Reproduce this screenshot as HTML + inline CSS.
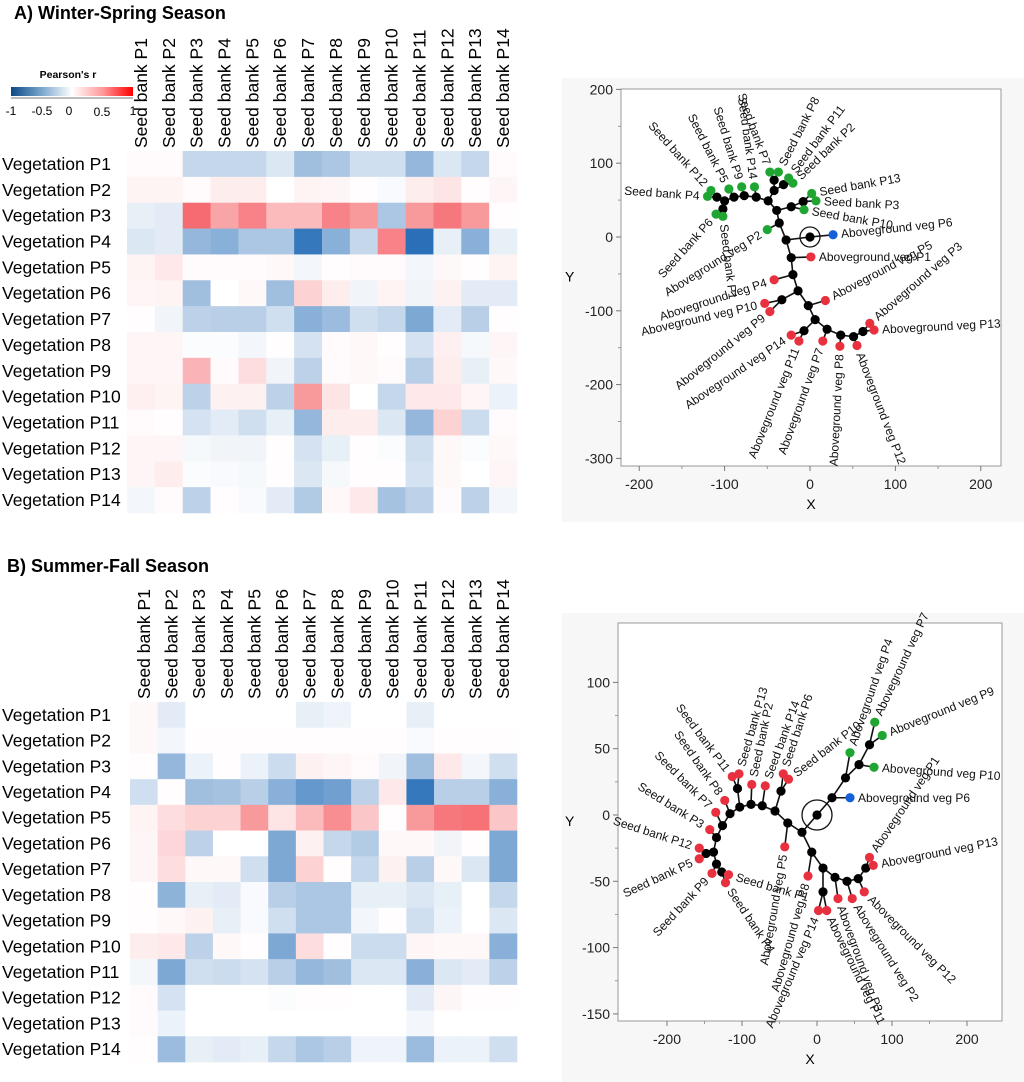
<!DOCTYPE html>
<html><head><meta charset="utf-8"><style>
html,body{margin:0;padding:0;background:#fff;}
svg{display:block;font-family:"Liberation Sans",sans-serif;}
</style></head><body>
<svg id="fig" width="1024" height="1082" viewBox="0 0 1024 1082" xmlns="http://www.w3.org/2000/svg">
<defs>
<linearGradient id="lg" x1="0" x2="1" y1="0" y2="0">
<stop offset="0" stop-color="#0c4a86"/><stop offset="0.25" stop-color="#7aa6cc"/><stop offset="0.5" stop-color="#ffffff"/><stop offset="0.75" stop-color="#ff9a9a"/><stop offset="1" stop-color="#ff0000"/>
</linearGradient>
</defs>
<text x="14" y="19" font-size="18" font-weight="bold">A) Winter-Spring Season</text>
<text x="7" y="572" font-size="18" font-weight="bold">B) Summer-Fall Season</text>
<g>
<text x="68" y="78" font-size="10.5" font-weight="bold" text-anchor="middle">Pearson's r</text>
<rect x="11" y="87" width="122" height="9" fill="url(#lg)"/>
<line x1="11" y1="98" x2="133" y2="98" stroke="#777" stroke-width="1"/>
<g font-size="12" text-anchor="middle">
<text x="11" y="115">-1</text>
<text x="42" y="115">-0.5</text>
<text x="69" y="115">0</text>
<text x="102" y="116">0.5</text>
<text x="133" y="115">1</text>
</g>
</g>
<g id="heatA"></g>
<g id="heatB"></g>
<g id="dendA"></g>
<g id="dendB"></g>
</svg>
<script>
const colLabels = ["Seed bank P1","Seed bank P2","Seed bank P3","Seed bank P4","Seed bank P5","Seed bank P6","Seed bank P7","Seed bank P8","Seed bank P9","Seed bank P10","Seed bank P11","Seed bank P12","Seed bank P13","Seed bank P14"];
const rowLabels = ["Vegetation P1","Vegetation P2","Vegetation P3","Vegetation P4","Vegetation P5","Vegetation P6","Vegetation P7","Vegetation P8","Vegetation P9","Vegetation P10","Vegetation P11","Vegetation P12","Vegetation P13","Vegetation P14"];
const valuesA = [
[0.02,0.02,-0.25,-0.25,-0.25,-0.15,-0.4,-0.35,-0.2,-0.2,-0.45,-0.15,-0.25,0.02],
[0.05,0.05,0.02,0.08,0.08,0,0.05,0.04,0.01,-0.03,0.08,0.12,0.01,0.04],
[-0.1,-0.12,0.65,0.4,0.55,0.3,0.3,0.55,0.45,-0.35,0.45,0.6,0.45,0.01],
[-0.15,-0.12,-0.45,-0.5,-0.35,-0.35,-0.85,-0.5,-0.25,0.55,-0.9,-0.1,-0.5,-0.1],
[0.05,0.1,0.02,0.02,0.02,0.03,-0.05,0.01,0.02,0.02,-0.05,0.03,0.01,0.05],
[0.04,0.05,-0.4,0,0.03,-0.4,0.2,0.08,-0.06,0.05,-0.06,0.06,-0.12,-0.12],
[0.01,-0.06,-0.28,-0.3,-0.3,-0.2,-0.5,-0.42,-0.2,-0.25,-0.55,-0.12,-0.3,0.01],
[0.04,0.04,-0.02,-0.02,-0.05,0.01,-0.18,0.02,0.03,0.01,-0.18,0.07,-0.04,0.04],
[0.04,0.04,0.33,0.02,0.15,-0.06,-0.28,0.02,0.03,0.02,-0.3,0.08,-0.1,0.03],
[0.07,0.05,-0.28,0.06,0.06,-0.28,0.45,0.12,0,-0.25,0.1,0.1,0.04,-0.08],
[0.02,0.01,-0.18,-0.12,-0.2,-0.1,-0.45,0.08,0.08,-0.15,-0.45,0.2,-0.22,0.02],
[0.04,0.04,-0.04,-0.06,-0.06,0.01,-0.18,-0.1,0.01,-0.02,-0.2,0.03,-0.02,0.03],
[0.04,0.08,-0.02,-0.03,-0.04,0.01,-0.15,-0.04,0.01,0.01,-0.18,0.03,0,0.04],
[-0.05,0.02,-0.28,0.01,-0.03,-0.12,-0.33,0.03,0.1,-0.38,-0.28,0.02,-0.28,-0.05]];
const valuesB = [
[0.03,-0.12,0,0,0,0,-0.1,-0.07,0,0,-0.1,0,0,0],
[0.03,-0.05,0.01,0.01,0.01,0.01,0.01,0.01,0.01,0.01,-0.03,0.01,0.01,0.01],
[0.01,-0.45,-0.08,0.01,-0.08,-0.22,0.06,0.04,0.02,-0.06,-0.4,0.1,-0.05,-0.2],
[-0.2,0.01,-0.4,-0.38,-0.3,-0.5,-0.65,-0.6,-0.28,0.1,-0.85,-0.3,-0.3,-0.5],
[0.05,0.15,0.2,0.2,0.45,0.12,0.3,0.5,0.25,0.01,0.45,0.6,0.62,0.25],
[0.04,0.18,-0.28,0,0,-0.55,0.06,-0.25,-0.32,0.03,0.03,-0.06,0.01,-0.55],
[0.04,0.15,0.03,0.03,-0.2,-0.55,0.2,0.01,-0.25,0.06,-0.3,0.03,-0.15,-0.55],
[0.01,-0.48,-0.1,-0.12,-0.03,-0.3,-0.35,-0.35,-0.1,-0.1,-0.15,-0.1,0,-0.25],
[0.01,0.03,0.06,-0.1,-0.03,-0.2,-0.35,-0.35,-0.05,0.01,-0.2,-0.08,0,-0.15],
[0.08,0.1,-0.28,0.03,0.01,-0.55,0.15,0.01,-0.22,-0.22,0.04,0.03,0.03,-0.5],
[-0.05,-0.55,-0.2,-0.22,-0.18,-0.3,-0.45,-0.4,-0.15,-0.15,-0.5,-0.15,-0.12,-0.28],
[0.02,-0.18,0,0,0,-0.02,0.01,0.01,0,0,-0.12,0.04,0.01,0.01],
[0.02,-0.08,0,0,0,0,0,0,0,0,-0.05,0,0,0],
[0.01,-0.42,-0.1,-0.12,-0.1,-0.25,-0.35,-0.3,-0.07,-0.07,-0.42,-0.08,-0.08,-0.2]];

const nodesA = [
["root",0,0,null],["a",-28,-4,"root"],["b",-22,-28,"a"],["c",-20,-51,"b"],["d",-14,-73,"c"],["l",-33,-85,"d"],
["e",-2,-93,"d"],["f",6,-112,"e"],["k",-7,-127,"f"],["g",20,-125,"f"],["h",36,-133,"g"],["i",51,-135,"h"],["j",62,-128,"i"],
["m",-36,19,"a"],["n",-39,36,"m"],["y",-22,41,"n"],["z",-8,48,"y"],["o",-49,49,"n"],["v",-42,63,"o"],["w",-42,77,"v"],["x",-31,71,"v"],
["p",-63,54,"o"],["q",-77,56,"p"],["r",-89,54,"q"],["s",-100,49,"r"],["t",-109,54,"s"],["u",-102,38,"s"]];
const leavesA = [
["Aboveground veg P6",27,3,"root","b",354],
["Aboveground veg P1",1,-27,"b","r",0],
["Aboveground veg P4",-42,-58,"c","r",162],
["Aboveground veg P10",-53,-90,"l","r",167],
["Aboveground veg P9",-47,-101,"l","r",141],
["Aboveground veg P5",18,-86,"e","r",332],
["Aboveground veg P14",-22,-133,"k","r",146],
["Aboveground veg P11",-13,-141,"k","r",112],
["Aboveground veg P7",15,-141,"g","r",110],
["Aboveground veg P8",35,-148,"h","r",93],
["Aboveground veg P12",55,-147,"i","r",69],
["Aboveground veg P3",70,-117,"j","r",319],
["Aboveground veg P13",75,-126,"j","r",357],
["Aboveground veg P2",-50,10,"m","g",148],
["Seed bank P10",-7,37,"y","g",10],
["Seed bank P3",7,49,"z","g",3],
["Seed bank P13",2,59,"z","g",350],
["Seed bank P7",-47,88,"w","g",250],
["Seed bank P8",-37,88,"w","g",297],
["Seed bank P11",-25,80,"x","g",307],
["Seed bank P2",-20,73,"x","g",316],
["Seed bank P14",-65,68,"p","g",262],
["Seed bank P9",-80,68,"q","g",253],
["Seed bank P5",-95,65,"r","g",243],
["Seed bank P4",-120,55,"t","g",184],
["Seed bank P12",-116,63,"t","g",228],
["Seed bank P6",-110,31,"u","g",132],
["Seed bank P1",-102,28,"u","g",83]];

const nodesB = [
["root",0,0,null],["b1",20,13,"root"],["b2",38,28,"b1"],["b3",56,38,"b2"],["b4",70,53,"b3"],
["c1",-20,-13,"root"],["c2",-39,-6,"c1"],["c3",-56,3,"c2"],["c4",-48,18,"c3"],["c5",-73,7,"c3"],["c6",-88,8,"c5"],
["c7",-103,6,"c6"],["c8",-106,20,"c7"],["c9",-116,1,"c7"],["c10",-126,-8,"c9"],["c11",-134,-17,"c10"],["c12",-138,-28,"c11"],
["c13",-148,-29,"c12"],["c14",-134,-37,"c12"],["c15",-127,-43,"c14"],
["d1",-7,-28,"c1"],["d2",8,-40,"d1"],["d3",8,-58,"d2"],["d4",24,-47,"d2"],["d5",40,-50,"d4"],["d6",55,-48,"d5"],["d7",65,-40,"d6"]];
const leavesB = [
["Aboveground veg P6",44,13,"b1","b",0],
["Aboveground veg P4",44,47,"b2","g",289],
["Aboveground veg P10",76,36,"b3","g",4],
["Aboveground veg P7",77,70,"b4","g",295],
["Aboveground veg P9",87,60,"b4","g",338],
["Aboveground veg P5",-43,-24,"c2","r",100],
["Seed bank P6",-45,31,"c4","r",288],
["Seed bank P10",-38,27,"c4","r",322],
["Seed bank P14",-69,22,"c5","r",290],
["Seed bank P2",-87,23,"c6","r",282],
["Seed bank P11",-113,29,"c8","r",233],
["Seed bank P13",-104,31,"c8","r",286],
["Seed bank P8",-123,11,"c9","r",235],
["Seed bank P7",-135,2,"c10","r",225],
["Seed bank P3",-143,-11,"c11","r",212],
["Seed bank P12",-157,-25,"c13","r",198],
["Seed bank P5",-157,-33,"c13","r",155],
["Seed bank P9",-140,-44,"c14","r",133],
["Seed bank P1",-118,-45,"c15","r",16],
["Seed bank P4",-122,-51,"c15","r",56],
["Aboveground veg P8",-12,-46,"d1","r",106],
["Aboveground veg P14",2,-72,"d3","r",113],
["Aboveground veg P11",13,-72,"d3","r",64],
["Aboveground veg P3",28,-63,"d4","r",70],
["Aboveground veg P2",47,-63,"d5","r",58],
["Aboveground veg P12",63,-58,"d6","r",45],
["Aboveground veg P1",70,-32,"d7","r",304],
["Aboveground veg P13",75,-38,"d7","r",349]];
const xTicksA = [-200,-100,0,100,200], yTicksA = [200,100,0,-100,-200,-300];
const xTicksB = [-200,-100,0,100,200], yTicksB = [100,50,0,-50,-100,-150];

const NS = "http://www.w3.org/2000/svg";
function mk(tag, attrs, parent){const e=document.createElementNS(NS,tag);for(const k in attrs)e.setAttribute(k,attrs[k]);parent.appendChild(e);return e;}
function color(v){
  const t=Math.min(1,Math.abs(v));
  let c = v<0 ? [18,96,176] : [240,28,36];
  const r=Math.round(255+(c[0]-255)*t), g=Math.round(255+(c[1]-255)*t), b=Math.round(255+(c[2]-255)*t);
  return `rgb(${r},${g},${b})`;
}
function heatmap(gid, vals, x0, x1, y0, y1){
  const g=document.getElementById(gid);
  const cw=(x1-x0)/colLabels.length, rh=(y1-y0)/rowLabels.length;
  vals.forEach((row,i)=>row.forEach((v,j)=>{
    const r=mk('rect',{x:x0+j*cw,y:y0+i*rh,width:cw+0.3,height:rh+0.3,fill:color(v)},g);
    
    
  }));
  rowLabels.forEach((l,i)=>{
    const t=mk('text',{x:2,y:y0+i*rh+rh/2+6,'font-size':17.5},g);t.textContent=l;
    
    
  });
  colLabels.forEach((l,j)=>{
    const cx=x0+j*cw+cw/2+6, cy=y0-3;
    const t=mk('text',{x:cx,y:cy,'font-size':17.5,transform:`rotate(-90 ${cx} ${cy})`},g);t.textContent=l;
    
    
  });
}
heatmap('heatA', valuesA, 127, 517, 151, 513);
heatmap('heatB', valuesB, 130, 517, 702, 1062);

function dendro(gid, nodes, leaves, xt, yt, box, X, Y, bg, rootR){
  const g=document.getElementById(gid);
  const b=mk('rect',{x:bg[0],y:bg[1],width:bg[2],height:bg[3],fill:'#f7f7f7'},g);
  
  
  const f=mk('rect',{x:box[0],y:box[1],width:box[2]-box[0],height:box[3]-box[1],fill:'#fff',stroke:'#999','stroke-width':1},g);
  
  
  xt.forEach((v,i)=>{
    const px=X(v);
    mk('line',{x1:px,y1:box[3],x2:px,y2:box[3]+5,stroke:'#777'},g);
    if(i<xt.length-1) mk('line',{x1:X(v+(xt[1]-xt[0])/2),y1:box[3],x2:X(v+(xt[1]-xt[0])/2),y2:box[3]+3,stroke:'#999'},g);
    const t=mk('text',{x:px,y:box[3]+23,'font-size':14,'text-anchor':'middle',fill:'#222'},g);t.textContent=v;
    
    
  });
  yt.forEach((v,i)=>{
    const py=Y(v);
    mk('line',{x1:box[0]-5,y1:py,x2:box[0],y2:py,stroke:'#777'},g);
    if(i<yt.length-1) mk('line',{x1:box[0]-3,y1:Y(v+(yt[1]-yt[0])/2),x2:box[0],y2:Y(v+(yt[1]-yt[0])/2),stroke:'#999'},g);
    const t=mk('text',{x:box[0]-8,y:py+5,'font-size':14,'text-anchor':'end',fill:'#222'},g);t.textContent=v;
    
    
  });
  const xl=mk('text',{x:(box[0]+box[2])/2,y:box[3]+43,'font-size':14,'text-anchor':'middle'},g);xl.textContent='X';
  
  
  const yl=mk('text',{x:bg[0]+3,y:(box[1]+box[3])/2+4,'font-size':14},g);yl.textContent='Y';
  
  
  const pos={};nodes.forEach(n=>pos[n[0]]=[n[1],n[2]]);
  const lg=mk('g',{},g);
  const all=nodes.map(n=>[n[1],n[2],n[3]]).concat(leaves.map(l=>[l[1],l[2],l[3]]));
  all.forEach(n=>{ if(n[2]){const p=pos[n[2]];
    const e=mk('line',{x1:X(p[0]),y1:Y(p[1]),x2:X(n[0]),y2:Y(n[1]),stroke:'#111','stroke-width':1.6},lg);
    
    }});
  const rc=mk('circle',{cx:X(0),cy:Y(0),r:rootR,fill:'none',stroke:'#111','stroke-width':1.3},g);
  
  
  nodes.forEach(n=>{const c=mk('circle',{cx:X(n[1]),cy:Y(n[2]),r:4.6,fill:'#000'},g);
    
    });
  const cols={g:'#1fa632',r:'#e8303f',b:'#1560d8'};
  leaves.forEach(l=>{
    const px=X(l[1]),py=Y(l[2]);
    const c=mk('circle',{cx:px,cy:py,r:4.6,fill:cols[l[4]]},g);
    
    
    const a=l[5]*Math.PI/180, tx=px+8*Math.cos(a), ty=py+8*Math.sin(a);
    let rot=l[5], anchor='start';
    if(l[5]>90&&l[5]<270){rot=l[5]-180;anchor='end';}
    const t=mk('text',{x:tx,y:ty+4,'font-size':12,'text-anchor':anchor,transform:`rotate(${rot} ${tx} ${ty})`,fill:'#111'},g);
    t.textContent=l[0];
    
    
  });
}
dendro('dendA', nodesA, leavesA, xTicksA, yTicksA, [621,89,1001,466],
  v=>810+v*0.854, v=>237-v*0.738, [562,78,462,444], 10);
dendro('dendB', nodesB, leavesB, xTicksB, yTicksB, [618,623,1002,1021],
  v=>817+v*0.75, v=>815-v*1.326, [562,613,462,469], 15);
</script>
</body></html>
